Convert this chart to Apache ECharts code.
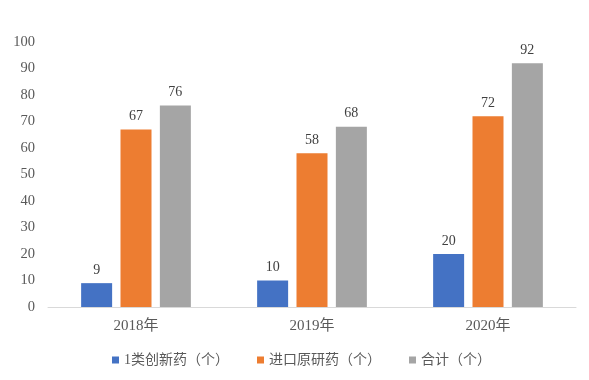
<!DOCTYPE html>
<html><head><meta charset="utf-8">
<script src="https://cdn.jsdelivr.net/npm/echarts@6/dist/echarts.min.js"></script>
<style>html,body{margin:0;padding:0;background:#fff}#c{width:589px;height:380px}</style>
</head><body><div id="c"></div>
<script>
const categories = ['2018年', '2019年', '2020年'];
const innovative = [9, 10, 20];
const imported = [67, 58, 72];
const total = [76, 68, 92];
const yTicks = {min: 0, max: 100, interval: 10};

const serif = '"Liberation Serif", "Times New Roman", "Noto Sans CJK SC", serif';
const chart = echarts.init(document.getElementById('c'));
const lbl = {show: true, position: 'top', distance: 6, color: '#404040', fontSize: 14, fontFamily: serif};
chart.setOption({
  animation: false,
  grid: {left: 48, right: 13, top: 42, bottom: 73},
  legend: {
    bottom: 8, left: 107, icon: 'rect', itemWidth: 7, itemHeight: 7, itemGap: 28,
    textStyle: {color: '#595959', fontSize: 14, fontFamily: serif, padding: [0, 0, 0, 0]}
  },
  xAxis: {
    type: 'category', data: categories,
    axisLine: {lineStyle: {color: '#D9D9D9', width: 1}},
    axisTick: {show: false},
    axisLabel: {color: '#595959', fontSize: 15, fontFamily: serif, margin: 12}
  },
  yAxis: {
    type: 'value', min: yTicks.min, max: yTicks.max, interval: yTicks.interval,
    splitLine: {show: false}, axisLine: {show: false}, axisTick: {show: false},
    axisLabel: {color: '#595959', fontSize: 14.5, fontFamily: serif, margin: 13}
  },
  series: [
    {name: '1类创新药（个）', type: 'bar', data: innovative, barWidth: 31, barGap: '27%', itemStyle: {color: '#4472C4'}, label: lbl},
    {name: '进口原研药（个）', type: 'bar', data: imported, barWidth: 31, itemStyle: {color: '#ED7D31'}, label: lbl},
    {name: '合计（个）', type: 'bar', data: total, barWidth: 31, itemStyle: {color: '#A5A5A5'}, label: lbl}
  ]
});
</script></body></html>
